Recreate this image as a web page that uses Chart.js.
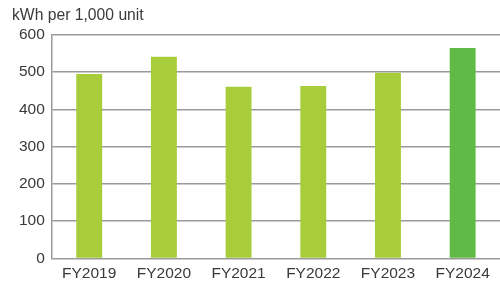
<!DOCTYPE html>
<html lang="en">
<head>
  <meta charset="UTF-8">
  <title>kWh per 1,000 unit</title>
  <script src="https://cdn.jsdelivr.net/npm/chart.js"></script>
  <style>
    html, body { margin: 0; padding: 0; background: #fff; }
    .chart-container { width: 500px; height: 290px; position: relative; }
  </style>
</head>
<body>
  <div class="chart-container">
    <canvas id="chartEnergia"></canvas>
  </div>

  <script>
    // Datos
    const categorias = ['FY2019', 'FY2020', 'FY2021', 'FY2022', 'FY2023', 'FY2024'];
    const valores = [495, 541, 461, 463, 498, 565];
    const colores = ['#a8cd3a', '#a8cd3a', '#a8cd3a', '#a8cd3a', '#a8cd3a', '#60bb46'];
    const unidad = 'kWh per 1,000 unit';

    const fuente = "'Liberation Sans', Arial, sans-serif";

    const ctx = document.getElementById('chartEnergia').getContext('2d');
    const chartEnergia = new Chart(ctx, {
      type: 'bar',
      data: {
        labels: categorias,
        datasets: [
          { label: unidad, data: valores, backgroundColor: colores, borderWidth: 0, barPercentage: 0.347, categoryPercentage: 1 }
        ]
      },
      options: {
        responsive: true,
        maintainAspectRatio: false,
        animation: false,
        layout: { padding: { left: 12, right: 0, top: 6, bottom: 1 } },
        plugins: {
          legend: { display: false },
          tooltip: { enabled: false },
          title: {
            display: true,
            text: unidad,
            align: 'start',
            color: '#3a3a3a',
            font: { family: fuente, size: 15.7, weight: 'normal' },
            padding: { top: 0, bottom: 10 }
          }
        },
        scales: {
          x: {
            grid: { display: false, drawTicks: false },
            border: { display: false },
            ticks: { color: '#3a3a3a', font: { family: fuente, size: 15.5 }, padding: 6 }
          },
          y: {
            min: 0,
            max: 600,
            ticks: { stepSize: 100, color: '#3a3a3a', font: { family: fuente, size: 15.5 }, padding: 7 },
            grid: { color: '#9a9a9a', lineWidth: 1.5, drawTicks: false },
            border: { display: true, color: '#9a9a9a', width: 1.5 }
          }
        }
      }
    });
  </script>
</body>
</html>
